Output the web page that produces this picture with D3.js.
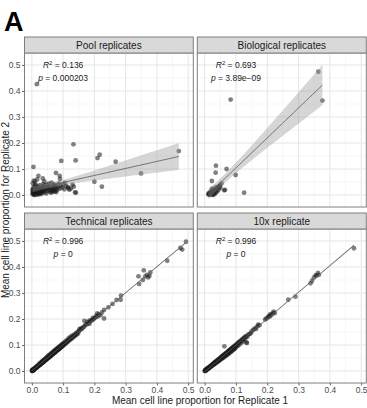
<!DOCTYPE html>
<html>
<head>
<meta charset="utf-8">
<script src="https://cdn.jsdelivr.net/npm/d3@7"></script>
<style>
  body { margin: 0; background: #fff; }
  text { font-family: "Liberation Sans", Arial, Helvetica, sans-serif; }
</style>
</head>
<body>
<svg id="chart" width="367" height="408"></svg>
<script>
// ---- data ----
var panelTitles = ["Pool replicates", "Biological replicates", "Technical replicates", "10x replicate"];
var r2Labels = ["0.136", "0.693", "0.996", "0.996"];
var pLabels = ["0.000203", "3.89e\u221209", "0", "0"];
var xTicks = [0, 0.1, 0.2, 0.3, 0.4, 0.5];
var yTicks = [0, 0.1, 0.2, 0.3, 0.4, 0.5];

var poolPoints = [
  [0.016,0.426],[0.133,0.195],[0.470,0.169],[0.217,0.155],[0.210,0.142],[0.268,0.128],[0.140,0.133],
  [0.094,0.131],[0.005,0.108],[0.349,0.083],[0.200,0.051],[0.224,0.032],[0.134,0.032],[0.138,0.010],
  [0.077,0.085],[0.089,0.074],[0.090,0.062],[0.021,0.074],[0.010,0.051],[0.035,0.064],[0.040,0.052],
  [0.106,0.047],[0.117,0.026],[0.120,0.020],[0.141,0.009],[0.074,0.013],[0.069,0.038],[0.053,0.032],
  [0.002,0.004],[0.003,0.012],[0.004,0.022],[0.005,0.030],[0.006,0.002],[0.007,0.008],[0.008,0.017],
  [0.009,0.026],[0.010,0.035],[0.011,0.005],[0.012,0.014],[0.013,0.021],[0.014,0.029],[0.015,0.001],
  [0.016,0.010],[0.017,0.018],[0.018,0.024],[0.019,0.033],[0.020,0.006],[0.021,0.015],[0.022,0.003],
  [0.023,0.027],[0.024,0.012],[0.025,0.020],[0.026,0.038],[0.027,0.008],[0.028,0.017],[0.029,0.025],
  [0.030,0.004],[0.031,0.031],[0.032,0.013],[0.033,0.021],[0.034,0.009],[0.035,0.028],[0.036,0.016],
  [0.037,0.042],[0.038,0.023],[0.040,0.011],[0.041,0.034],[0.043,0.019],[0.045,0.027],[0.046,0.006],
  [0.048,0.039],[0.050,0.015],[0.052,0.024],[0.054,0.044],[0.055,0.020],[0.057,0.031],[0.059,0.012],
  [0.061,0.026],[0.063,0.048],[0.065,0.018],[0.067,0.029],[0.070,0.022],[0.072,0.041],[0.075,0.027],
  [0.078,0.034],[0.080,0.019],[0.083,0.030],[0.086,0.045],[0.088,0.024],[0.092,0.036],[0.096,0.028],
  [0.100,0.040],[0.104,0.022],[0.110,0.034],[0.115,0.030],[0.125,0.025],[0.130,0.040],[0.003,0.045],
  [0.006,0.055],[0.012,0.040],[0.017,0.060],[0.008,0.000],[0.002,0.020],[0.011,0.027],[0.014,0.008],
  [0.019,0.012],[0.024,0.005],[0.006,0.015],[0.009,0.019],[0.004,0.007],[0.007,0.013],[0.066,0.014],
  [0.072,0.017],[0.078,0.012],[0.062,0.009]
];

var bioPoints = [
  [0.363,0.474],[0.376,0.363],[0.083,0.367],[0.036,0.113],[0.035,0.086],[0.070,0.100],[0.099,0.077],
  [0.023,0.054],[0.126,0.009],[0.065,0.020],[0.062,0.018],[0.054,0.045],[0.049,0.038],[0.047,0.033],
  [0.012,0.002],[0.014,0.004],[0.016,0.001],[0.018,0.005],[0.020,0.003],[0.022,0.008],[0.024,0.002],
  [0.026,0.012],[0.028,0.006],[0.030,0.015],[0.032,0.004],[0.034,0.019],[0.036,0.010],[0.038,0.024],
  [0.040,0.014],[0.042,0.028],[0.044,0.020],[0.028,0.022],[0.022,0.017],[0.019,0.012],[0.024,0.025],
  [0.017,0.009],[0.031,0.009],[0.036,0.030],[0.045,0.033],[0.050,0.028],[0.013,0.007],[0.027,0.000]
];

var techPoints = [
  [0.000,0.001],[0.001,0.000],[0.001,0.003],[0.002,0.002],[0.003,0.001],[0.003,0.005],[0.004,0.004],
  [0.005,0.003],[0.005,0.007],[0.006,0.006],[0.007,0.004],[0.008,0.010],[0.009,0.008],[0.010,0.009],
  [0.011,0.013],[0.012,0.011],[0.013,0.015],[0.014,0.012],[0.015,0.017],[0.016,0.014],[0.017,0.016],
  [0.018,0.021],[0.019,0.017],[0.020,0.019],[0.021,0.024],[0.022,0.020],[0.023,0.022],[0.024,0.028],
  [0.025,0.023],[0.026,0.025],[0.027,0.030],[0.028,0.026],[0.029,0.027],[0.030,0.034],[0.031,0.029],
  [0.032,0.032],[0.033,0.037],[0.034,0.031],[0.035,0.035],[0.036,0.041],[0.037,0.035],[0.038,0.036],
  [0.039,0.043],[0.040,0.038],[0.041,0.041],[0.042,0.047],[0.043,0.041],[0.044,0.042],[0.045,0.050],
  [0.046,0.044],[0.047,0.046],[0.048,0.053],[0.049,0.046],[0.050,0.050],[0.051,0.057],[0.052,0.050],
  [0.053,0.051],[0.054,0.060],[0.055,0.053],[0.056,0.056],[0.057,0.062],[0.058,0.055],[0.059,0.058],
  [0.060,0.066],[0.061,0.059],[0.062,0.060],[0.063,0.069],[0.064,0.062],[0.065,0.065],[0.066,0.072],
  [0.067,0.065],[0.068,0.066],[0.069,0.075],[0.070,0.068],[0.071,0.071],[0.072,0.078],[0.073,0.070],
  [0.074,0.073],[0.075,0.081],[0.076,0.074],[0.077,0.075],[0.078,0.084],[0.079,0.077],[0.080,0.080],
  [0.081,0.087],[0.082,0.080],[0.083,0.081],[0.084,0.090],[0.085,0.083],[0.086,0.086],[0.087,0.093],
  [0.088,0.086],[0.089,0.087],[0.090,0.096],[0.091,0.089],[0.092,0.092],[0.093,0.099],[0.094,0.092],
  [0.095,0.093],[0.096,0.102],[0.097,0.095],[0.098,0.098],[0.099,0.105],[0.100,0.098],[0.102,0.100],
  [0.103,0.109],[0.105,0.103],[0.106,0.106],[0.108,0.115],[0.109,0.107],[0.111,0.110],[0.113,0.120],
  [0.114,0.112],[0.116,0.116],[0.118,0.126],[0.119,0.117],[0.121,0.121],[0.123,0.131],[0.125,0.122],
  [0.127,0.127],[0.129,0.136],[0.131,0.128],[0.133,0.133],[0.135,0.140],[0.137,0.134],[0.139,0.138],
  [0.141,0.146],[0.143,0.140],[0.146,0.149],[0.148,0.144],[0.150,0.153],[0.152,0.161],[0.155,0.158],
  [0.158,0.165],[0.161,0.163],[0.165,0.169],[0.168,0.172],[0.168,0.193],[0.172,0.178],[0.176,0.180],
  [0.178,0.190],[0.183,0.188],[0.184,0.181],[0.186,0.195],[0.190,0.193],[0.194,0.197],[0.195,0.204],
  [0.198,0.200],[0.202,0.205],[0.206,0.212],[0.209,0.222],[0.210,0.209],[0.214,0.218],[0.219,0.214],
  [0.224,0.225],[0.231,0.235],[0.231,0.202],[0.245,0.245],[0.258,0.258],[0.271,0.273],[0.284,0.274],
  [0.285,0.290],[0.343,0.335],[0.355,0.350],[0.341,0.364],[0.363,0.364],[0.372,0.360],[0.368,0.370],
  [0.376,0.366],[0.379,0.379],[0.358,0.387],[0.433,0.424],[0.481,0.467],[0.475,0.473],[0.493,0.497]
];

var tenxPoints = [
  [0.000,0.000],[0.001,0.002],[0.002,0.001],[0.003,0.002],[0.003,0.004],[0.004,0.003],[0.005,0.004],
  [0.006,0.005],[0.006,0.008],[0.007,0.006],[0.008,0.007],[0.009,0.010],[0.010,0.008],[0.011,0.010],
  [0.012,0.013],[0.013,0.011],[0.014,0.012],[0.015,0.016],[0.016,0.014],[0.017,0.015],[0.018,0.019],
  [0.019,0.016],[0.020,0.018],[0.021,0.022],[0.022,0.019],[0.023,0.021],[0.024,0.025],[0.025,0.022],
  [0.026,0.024],[0.027,0.028],[0.028,0.024],[0.029,0.027],[0.030,0.031],[0.031,0.027],[0.032,0.030],
  [0.033,0.034],[0.034,0.029],[0.035,0.033],[0.036,0.037],[0.037,0.032],[0.038,0.036],[0.039,0.040],
  [0.040,0.035],[0.041,0.039],[0.042,0.043],[0.043,0.037],[0.044,0.042],[0.045,0.046],[0.046,0.040],
  [0.047,0.045],[0.048,0.049],[0.049,0.043],[0.050,0.048],[0.051,0.052],[0.052,0.045],[0.053,0.051],
  [0.054,0.055],[0.055,0.048],[0.056,0.054],[0.057,0.058],[0.058,0.050],[0.059,0.057],[0.060,0.061],
  [0.061,0.053],[0.062,0.060],[0.063,0.095],[0.063,0.064],[0.064,0.056],[0.065,0.063],[0.066,0.067],
  [0.067,0.058],[0.068,0.066],[0.069,0.070],[0.070,0.061],[0.071,0.069],[0.072,0.073],[0.073,0.064],
  [0.074,0.072],[0.075,0.076],[0.076,0.066],[0.077,0.075],[0.078,0.079],[0.079,0.069],[0.080,0.078],
  [0.081,0.082],[0.082,0.072],[0.083,0.081],[0.084,0.085],[0.085,0.075],[0.086,0.084],[0.087,0.088],
  [0.088,0.078],[0.089,0.087],[0.090,0.091],[0.091,0.081],[0.092,0.090],[0.093,0.094],[0.094,0.084],
  [0.095,0.093],[0.096,0.097],[0.097,0.087],[0.098,0.096],[0.099,0.100],[0.100,0.091],[0.102,0.101],
  [0.104,0.105],[0.105,0.096],[0.107,0.107],[0.109,0.111],[0.110,0.101],[0.112,0.112],[0.114,0.116],
  [0.116,0.107],[0.118,0.119],[0.120,0.122],[0.122,0.114],[0.124,0.125],[0.126,0.128],[0.128,0.121],
  [0.130,0.131],[0.133,0.110],[0.135,0.108],[0.132,0.134],[0.136,0.131],[0.139,0.140],[0.143,0.142],
  [0.147,0.145],[0.150,0.152],[0.155,0.158],[0.160,0.164],[0.164,0.162],[0.168,0.172],[0.171,0.178],
  [0.175,0.176],[0.193,0.198],[0.197,0.202],[0.202,0.206],[0.205,0.212],[0.208,0.210],[0.210,0.219],
  [0.213,0.215],[0.218,0.222],[0.220,0.228],[0.224,0.223],[0.267,0.274],[0.290,0.286],[0.338,0.337],
  [0.343,0.347],[0.349,0.360],[0.357,0.366],[0.355,0.369],[0.365,0.370],[0.362,0.377],[0.477,0.472]
];

var panelData = [poolPoints, bioPoints, techPoints, tenxPoints];

// ---- layout ----
var svg = d3.select("#chart");
svg.append("rect").attr("width", 367).attr("height", 408).attr("fill", "#fff");

var cols = [[24.5, 193.3], [197.3, 366.3]];
var rows = [{strip: 37, top: 53, bottom: 207}, {strip: 213, top: 229, bottom: 383}];
var xDomain = [-0.0236, 0.5164], yDomain = [-0.046, 0.546];
var minorTicks = [0.05, 0.15, 0.25, 0.35, 0.45];

// t quantile (97.5%) approximation for the se band
function tq(df) {
  var z = 1.959964;
  return z + (z * z * z + z) / (4 * df) + (5 * Math.pow(z, 5) + 16 * z * z * z + 3 * z) / (96 * df * df);
}

function lmFit(pts) {
  var n = pts.length;
  var mx = d3.mean(pts, function(d) { return d[0]; });
  var my = d3.mean(pts, function(d) { return d[1]; });
  var sxx = d3.sum(pts, function(d) { return (d[0] - mx) * (d[0] - mx); });
  var sxy = d3.sum(pts, function(d) { return (d[0] - mx) * (d[1] - my); });
  var b = sxy / sxx, a = my - b * mx;
  var sse = d3.sum(pts, function(d) { var e = d[1] - a - b * d[0]; return e * e; });
  return {a: a, b: b, s: Math.sqrt(sse / (n - 2)), n: n, mx: mx, sxx: sxx, t: tq(n - 2),
          xmin: d3.min(pts, function(d) { return d[0]; }), xmax: d3.max(pts, function(d) { return d[0]; })};
}

panelData.forEach(function(pts, i) {
  var col = cols[i % 2], row = rows[Math.floor(i / 2)];
  var x = d3.scaleLinear().domain(xDomain).range(col);
  var y = d3.scaleLinear().domain(yDomain).range([row.bottom, row.top]);
  var w = col[1] - col[0], h = row.bottom - row.top;

  var g = svg.append("g");
  var clipId = "clip" + i;
  svg.append("clipPath").attr("id", clipId)
    .append("rect").attr("x", col[0]).attr("y", row.top).attr("width", w).attr("height", h);

  // grid
  g.selectAll(".vminor").data(minorTicks).enter().append("line")
    .attr("x1", x).attr("x2", x).attr("y1", row.top).attr("y2", row.bottom)
    .attr("stroke", "#f2f2f2").attr("stroke-width", 0.6);
  g.selectAll(".hminor").data(minorTicks).enter().append("line")
    .attr("y1", y).attr("y2", y).attr("x1", col[0]).attr("x2", col[1])
    .attr("stroke", "#f2f2f2").attr("stroke-width", 0.6);
  g.selectAll(".vmajor").data(xTicks).enter().append("line")
    .attr("x1", x).attr("x2", x).attr("y1", row.top).attr("y2", row.bottom)
    .attr("stroke", "#e6e6e6").attr("stroke-width", 1);
  g.selectAll(".hmajor").data(yTicks).enter().append("line")
    .attr("y1", y).attr("y2", y).attr("x1", col[0]).attr("x2", col[1])
    .attr("stroke", "#e6e6e6").attr("stroke-width", 1);

  var plot = g.append("g").attr("clip-path", "url(#" + clipId + ")");

  // points
  plot.selectAll("circle").data(pts).enter().append("circle")
    .attr("cx", function(d) { return x(d[0]); })
    .attr("cy", function(d) { return y(d[1]); })
    .attr("r", 2.4)
    .attr("fill", "#1a1a1a")
    .attr("fill-opacity", 0.55);

  // smooth (lm) with se band
  var f = lmFit(pts);
  var xs = d3.range(0, 81).map(function(k) { return f.xmin + (f.xmax - f.xmin) * k / 80; });
  var band = xs.map(function(xv) {
    var yv = f.a + f.b * xv;
    var se = f.s * Math.sqrt(1 / f.n + (xv - f.mx) * (xv - f.mx) / f.sxx);
    return {x: xv, y: yv, lo: yv - f.t * se, hi: yv + f.t * se};
  });
  plot.append("path").datum(band)
    .attr("d", d3.area().x(function(d) { return x(d.x); })
      .y0(function(d) { return y(d.lo); }).y1(function(d) { return y(d.hi); }))
    .attr("fill", "#999").attr("fill-opacity", 0.4);
  plot.append("path").datum(band)
    .attr("d", d3.line().x(function(d) { return x(d.x); }).y(function(d) { return y(d.y); }))
    .attr("fill", "none").attr("stroke", "#555").attr("stroke-width", 0.8);

  // annotation
  var ann = g.append("g").attr("font-size", 8.5).attr("fill", "#1a1a1a").attr("text-anchor", "middle");
  var t1 = ann.append("text").attr("x", x(0.1)).attr("y", y(0.5)).attr("dy", "0.35em");
  t1.append("tspan").attr("font-style", "italic").text("R");
  t1.append("tspan").attr("font-size", 6).attr("dy", "-0.45em").text("2");
  t1.append("tspan").attr("dy", "0.3em").text(" = " + r2Labels[i]);
  var t2 = ann.append("text").attr("x", x(0.1)).attr("y", y(0.45)).attr("dy", "0.35em");
  t2.append("tspan").attr("font-style", "italic").text("p");
  t2.append("tspan").text(" = " + pLabels[i]);

  // border
  g.append("rect").attr("x", col[0]).attr("y", row.top).attr("width", w).attr("height", h)
    .attr("fill", "none").attr("stroke", "#7f7f7f").attr("stroke-width", 1);

  // strip
  g.append("rect").attr("x", col[0]).attr("y", row.strip).attr("width", w).attr("height", row.top - row.strip)
    .attr("fill", "#d9d9d9").attr("stroke", "#7f7f7f").attr("stroke-width", 1);
  g.append("text").attr("x", (col[0] + col[1]) / 2).attr("y", (row.strip + row.top) / 2).attr("dy", "0.35em")
    .attr("text-anchor", "middle").attr("font-size", 10).attr("fill", "#1a1a1a").text(panelTitles[i]);

  // axes
  if (i % 2 === 0) {
    var ay = g.append("g").attr("transform", "translate(" + col[0] + ",0)")
      .call(d3.axisLeft(y).tickValues(yTicks).tickFormat(d3.format(".1f")).tickSizeInner(2.5).tickSizeOuter(0).tickPadding(1.5));
    ay.select(".domain").remove();
    ay.selectAll("line").attr("stroke", "#666");
    ay.selectAll("text").attr("font-size", 8.5).attr("fill", "#4d4d4d")
      .attr("font-family", "'Liberation Sans', Arial, sans-serif");
  }
  if (i >= 2) {
    var ax = g.append("g").attr("transform", "translate(0," + row.bottom + ")")
      .call(d3.axisBottom(x).tickValues(xTicks).tickFormat(d3.format(".1f")).tickSizeInner(2.5).tickSizeOuter(0).tickPadding(1.5));
    ax.select(".domain").remove();
    ax.selectAll("line").attr("stroke", "#666");
    ax.selectAll("text").attr("font-size", 8.5).attr("fill", "#4d4d4d")
      .attr("font-family", "'Liberation Sans', Arial, sans-serif");
  }
});

// titles
svg.append("text").attr("x", 200).attr("y", 404).attr("text-anchor", "middle")
  .attr("font-size", 10).attr("fill", "#1a1a1a").text("Mean cell line proportion for Replicate 1");
svg.append("text").attr("transform", "translate(8.5,210) rotate(-90)").attr("text-anchor", "middle")
  .attr("font-size", 10).attr("fill", "#1a1a1a").text("Mean cell line proportion for Replicate 2");
svg.append("text").attr("x", 4).attr("y", 31).attr("font-size", 27).attr("font-weight", "bold")
  .attr("fill", "#000").text("A");
</script>
</body>
</html>
